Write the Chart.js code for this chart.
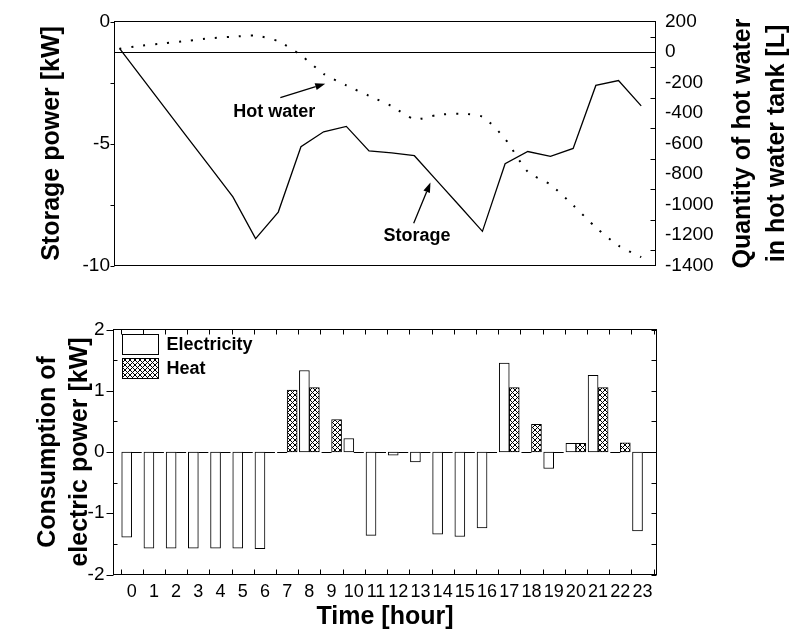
<!DOCTYPE html>
<html>
<head>
<meta charset="utf-8">
<script src="https://cdn.jsdelivr.net/npm/chart.js@4.4.1/dist/chart.umd.min.js"></script>
<style>
  html, body { margin: 0; padding: 0; background: #fff; }
  #wrap { position: relative; width: 790px; height: 638px; background: #fff; }
  #top { position: absolute; left: 0; top: 0; }
  #bot { position: absolute; left: 0; top: 300px; }
</style>
</head>
<body>
<div id="wrap">
  <canvas id="top" width="790" height="300"></canvas>
  <canvas id="bot" width="790" height="338"></canvas>
</div>
<script>
// ---------------- data ----------------
const hours = [0,1,2,3,4,5,6,7,8,9,10,11,12,13,14,15,16,17,18,19,20,21,22,23];
// Storage power [kW] (left axis, top panel)
const storagePower = [-1.1,-2.32,-3.54,-4.76,-5.97,-7.19,-8.9,-7.81,-5.13,-4.52,-4.3,-5.3,-5.38,-5.5,-6.53,-7.56,-8.6,-5.83,-5.33,-5.53,-5.2,-2.62,-2.42,-3.46];
// Quantity of hot water in hot water tank [L] (right axis, top panel)
const hotWater = [21,42,57,73,90,100,107,70,-22,-143,-219,-287,-355,-440,-413,-405,-425,-570,-785,-870,-1005,-1150,-1270,-1345];
// Consumption of electric power [kW] (bottom panel)
const electricity = [-1.39,-1.57,-1.57,-1.57,-1.57,-1.57,-1.58,0,1.33,0,0.22,-1.36,-0.05,-0.16,-1.34,-1.38,-1.24,1.45,0,-0.27,0.14,1.25,0,-1.29];
const heat = [0,0,0,0,0,0,0,1.01,1.05,0.53,0,0,0,0,0,0,0,1.05,0.45,0,0.14,1.05,0.15,0];
// tick values
const storageTicks = [0,-2.5,-5,-7.5,-10];
const hwTickStep = 200;
const consTicks = [-2,-1.5,-1,-0.5,0,0.5,1,1.5,2];

// ---------------- styling helpers ----------------
const FAM = "'Liberation Sans', Arial, Helvetica, sans-serif";
Chart.defaults.font.family = FAM;
Chart.defaults.color = '#000';

function makeHatch() {
  const c = document.createElement('canvas');
  c.width = 5; c.height = 5;
  const g = c.getContext('2d');
  g.fillStyle = '#fff'; g.fillRect(0, 0, 5, 5);
  g.strokeStyle = '#000'; g.lineWidth = 1;
  g.beginPath();
  g.moveTo(-1, -1); g.lineTo(6, 6);
  g.moveTo(6, -1); g.lineTo(-1, 6);
  g.stroke();
  return g.createPattern(c, 'repeat');
}

// frame + tick marks drawn from the library's scales
const frameTicks = {
  id: 'frameTicks',
  afterDraw(chart, args, opts) {
    const { ctx, chartArea: a } = chart;
    ctx.save();
    ctx.strokeStyle = '#000';
    ctx.lineWidth = 1;
    ctx.strokeRect(a.left, a.top, a.right - a.left, a.bottom - a.top);
    ctx.beginPath();
    for (const m of (opts.marks || [])) {
      const s = chart.scales[m.scale];
      for (const v of m.values) {
        const p = Math.round(s.getPixelForValue(v)) + 0.5;
        if (m.edge === 'left') { ctx.moveTo(a.left, p); ctx.lineTo(a.left + m.len, p); }
        if (m.edge === 'right') { ctx.moveTo(a.right, p); ctx.lineTo(a.right - m.len, p); }
        if (m.edge === 'top') { ctx.moveTo(p, a.top); ctx.lineTo(p, a.top + m.len); }
        if (m.edge === 'bottom') { ctx.moveTo(p, a.bottom); ctx.lineTo(p, a.bottom - m.len); }
      }
    }
    ctx.stroke();
    ctx.restore();
  }
};

// horizontal reference line (0 L of the right axis)
const refLine = {
  id: 'refLine',
  beforeDatasetsDraw(chart, args, opts) {
    if (!opts.scale) return;
    const { ctx, chartArea: a } = chart;
    const y = Math.round(chart.scales[opts.scale].getPixelForValue(opts.value)) + 0.5;
    ctx.save();
    ctx.strokeStyle = '#000'; ctx.lineWidth = 1;
    ctx.beginPath(); ctx.moveTo(a.left, y); ctx.lineTo(a.right, y); ctx.stroke();
    ctx.restore();
  }
};

// text labels with arrows, positioned in data coordinates
const notes = {
  id: 'notes',
  afterDatasetsDraw(chart, args, opts) {
    if (!opts.items) return;
    const { ctx } = chart;
    const xs = chart.scales.x, ys = chart.scales.y;
    ctx.save();
    ctx.fillStyle = '#000'; ctx.strokeStyle = '#000';
    for (const it of opts.items) {
      if (it.text) {
        ctx.font = 'bold 18px ' + FAM;
        ctx.textAlign = 'center'; ctx.textBaseline = 'middle';
        ctx.fillText(it.text, xs.getPixelForValue(it.x), ys.getPixelForValue(it.y));
      }
      if (it.from) {
        const x1 = xs.getPixelForValue(it.from[0]), y1 = ys.getPixelForValue(it.from[1]);
        const x2 = xs.getPixelForValue(it.to[0]), y2 = ys.getPixelForValue(it.to[1]);
        const ang = Math.atan2(y2 - y1, x2 - x1);
        const L = 10, W = 3.5;
        const bx = x2 - L * Math.cos(ang), by = y2 - L * Math.sin(ang);
        ctx.lineWidth = 1.3;
        ctx.beginPath(); ctx.moveTo(x1, y1); ctx.lineTo(bx, by); ctx.stroke();
        ctx.beginPath();
        ctx.moveTo(x2, y2);
        ctx.lineTo(bx + W * Math.sin(ang), by - W * Math.cos(ang));
        ctx.lineTo(bx - W * Math.sin(ang), by + W * Math.cos(ang));
        ctx.closePath(); ctx.fill();
      }
    }
    ctx.restore();
  }
};

// right-side axis title reading bottom-to-top
const sideTitle = {
  id: 'sideTitle',
  afterDraw(chart, args, opts) {
    if (!opts.lines) return;
    const { ctx, chartArea: a } = chart;
    const cy = (a.top + a.bottom) / 2;
    ctx.save();
    ctx.font = 'bold 25px ' + FAM;
    ctx.fillStyle = '#000';
    ctx.textAlign = 'center'; ctx.textBaseline = 'middle';
    opts.lines.forEach((t, i) => {
      ctx.save();
      ctx.translate(opts.x[i], cy);
      ctx.rotate(-Math.PI / 2);
      ctx.fillText(t, 0, 0);
      ctx.restore();
    });
    ctx.restore();
  }
};

// zero-height bars drawn as a line, and legend
const barExtras = {
  id: 'barExtras',
  afterDatasetsDraw(chart, args, opts) {
    if (!opts.legend) return;
    const { ctx, chartArea: a } = chart;
    const y0 = Math.round(chart.scales.y.getPixelForValue(0)) + 0.5;
    ctx.save();
    ctx.strokeStyle = '#000'; ctx.lineWidth = 1;
    chart.data.datasets.forEach((ds, di) => {
      const meta = chart.getDatasetMeta(di);
      meta.data.forEach((el, i) => {
        if (ds.data[i].y === 0) {
          ctx.beginPath();
          ctx.moveTo(el.x - el.width / 2, y0); ctx.lineTo(el.x + el.width / 2, y0);
          ctx.stroke();
        }
      });
    });
    // legend
    chart.data.datasets.forEach((ds, di) => {
      const bx = Math.round(a.left + 8) + 0.5;
      const by = Math.round(a.top + 4.5 + di * 23.5) + 0.5;
      ctx.fillStyle = ds.backgroundColor;
      ctx.fillRect(bx, by, 36, 20);
      ctx.strokeRect(bx, by, 36, 20);
      ctx.fillStyle = '#000';
      ctx.font = 'bold 18px ' + FAM;
      ctx.textAlign = 'left'; ctx.textBaseline = 'middle';
      ctx.fillText(ds.label, a.left + 53, by + 10.5);
    });
    ctx.restore();
  }
};

const noGrid = { display: false, drawTicks: false };

// ---------------- top chart ----------------
new Chart(document.getElementById('top'), {
  type: 'line',
  plugins: [frameTicks, refLine, notes, sideTitle],
  data: {
    datasets: [
      {
        label: 'Storage',
        data: hours.map((h, i) => ({ x: h, y: storagePower[i] })),
        yAxisID: 'y',
        borderColor: '#000', borderWidth: 1.3,
        pointRadius: 0, tension: 0, fill: false
      },
      {
        label: 'Hot water',
        data: hours.map((h, i) => ({ x: h, y: hotWater[i] })),
        yAxisID: 'y2',
        borderColor: '#000', borderWidth: 2,
        borderDash: [2, 10],
        pointRadius: 0, tension: 0.25, fill: false
      }
    ]
  },
  options: {
    responsive: false, animation: false, devicePixelRatio: 1,
    layout: { padding: { top: 21.5, bottom: 34.5, left: 0, right: 0 } },
    plugins: {
      legend: { display: false }, tooltip: { enabled: false },
      frameTicks: {
        marks: [
          { scale: 'y', edge: 'left', values: storageTicks, len: -4 },
          { scale: 'y2', edge: 'right', values: [100,-100,-300,-500,-700,-900,-1100,-1300], len: 5 }
        ]
      },
      refLine: { scale: 'y2', value: 0 },
      notes: {
        items: [
          { text: 'Hot water', x: 6.82, y: -3.71 },
          { from: [7.09, -3.12], to: [9.07, -2.55] },
          { text: 'Storage', x: 13.12, y: -8.79 },
          { from: [12.97, -8.27], to: [13.71, -6.6] }
        ]
      },
      sideTitle: { lines: ['Quantity of hot water', 'in hot water tank [L]'], x: [743, 777] }
    },
    scales: {
      x: { type: 'linear', min: -0.22, max: 23.63, display: false },
      y: {
        position: 'left', min: -10, max: 0,
        afterFit(s) { s.width = 114.5; },
        afterBuildTicks(s) { s.ticks = storageTicks.map(v => ({ value: v })); },
        ticks: {
          autoSkip: false, padding: 4.5, color: '#000',
          font: { size: 19 },
          callback: v => (v % 5 === 0 ? String(v) : '')
        },
        grid: noGrid, border: { display: false },
        title: {
          display: true, text: 'Storage power [kW]', color: '#000',
          font: { size: 25, weight: 'bold' }, padding: { top: 37, bottom: 0 }
        }
      },
      y2: {
        position: 'right', min: -1400, max: 200,
        afterFit(s) { s.width = 134.5; },
        ticks: {
          stepSize: hwTickStep, autoSkip: false, padding: 9.5, color: '#000',
          font: { size: 19 },
          callback: v => String(v)
        },
        grid: noGrid, border: { display: false }
      }
    }
  }
});

// ---------------- bottom chart ----------------
const hatch = makeHatch();
const xMarks = hours.map(h => h - 0.5).concat([23.5]);
new Chart(document.getElementById('bot'), {
  type: 'bar',
  plugins: [frameTicks, barExtras],
  data: {
    datasets: [
      {
        label: 'Electricity',
        data: hours.map((h, i) => ({ x: h, y: electricity[i] })),
        backgroundColor: '#fff', borderColor: '#000', borderWidth: 1,
        borderSkipped: false, barThickness: 10
      },
      {
        label: 'Heat',
        data: hours.map((h, i) => ({ x: h, y: heat[i] })),
        backgroundColor: hatch, borderColor: '#000', borderWidth: 1,
        borderSkipped: false, barThickness: 10
      }
    ]
  },
  options: {
    responsive: false, animation: false, devicePixelRatio: 1,
    layout: { padding: { top: 29.5, bottom: 0, left: 0, right: 133.5 } },
    plugins: {
      legend: { display: false }, tooltip: { enabled: false },
      frameTicks: {
        marks: [
          { scale: 'y', edge: 'left', values: [-2,-1,0,1,2], len: -7 },
          { scale: 'y', edge: 'left', values: [-1.5,-0.5,0.5,1.5], len: 4 },
          { scale: 'y', edge: 'right', values: consTicks, len: 5 },
          { scale: 'x', edge: 'top', values: xMarks, len: 5 },
          { scale: 'x', edge: 'bottom', values: xMarks, len: 5 }
        ]
      },
      barExtras: { legend: true }
    },
    scales: {
      x: {
        type: 'linear', min: -0.82, max: 23.63, offset: false,
        afterFit(s) { s.height = 63.5; },
        afterBuildTicks(s) { s.ticks = hours.map(v => ({ value: v })); },
        ticks: {
          autoSkip: false, maxRotation: 0, padding: 7, color: '#000',
          font: { size: 18 },
          callback: v => String(v)
        },
        grid: noGrid, border: { display: false },
        title: {
          display: true, text: 'Time [hour]', color: '#000',
          font: { size: 25, weight: 'bold' }, padding: { top: 0, bottom: 6 }
        }
      },
      y: {
        min: -2, max: 2,
        afterFit(s) { s.width = 113.5; },
        afterBuildTicks(s) { s.ticks = consTicks.map(v => ({ value: v })); },
        ticks: {
          autoSkip: false, padding: 9, color: '#000',
          font: { size: 19 },
          callback: v => (Number.isInteger(v) ? String(v) : '')
        },
        grid: noGrid, border: { display: false },
        title: {
          display: true, text: ['Consumption of', 'electric power [kW]'], color: '#000',
          font: { size: 25, weight: 'bold', lineHeight: 1.28 }, padding: { top: 32, bottom: 0 }
        }
      }
    }
  }
});
</script>
</body>
</html>
